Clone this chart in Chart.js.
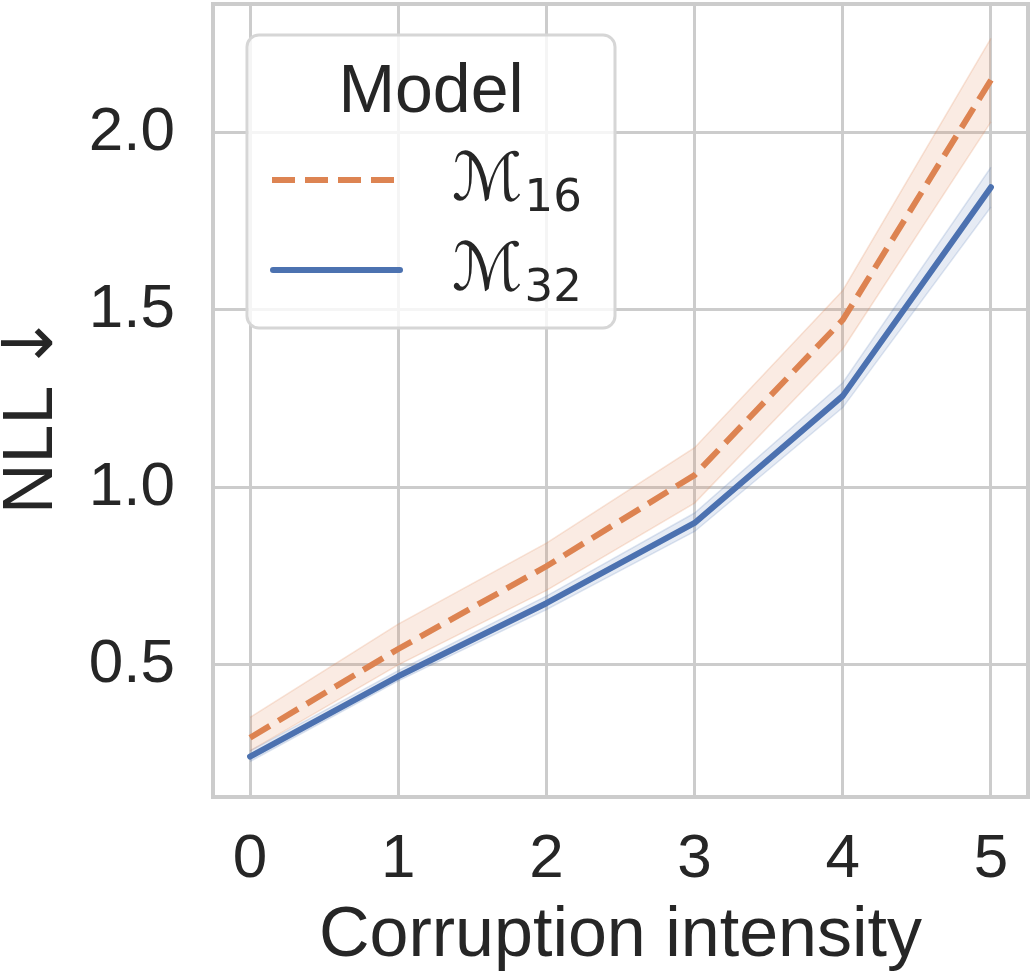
<!DOCTYPE html>
<html>
<head>
<meta charset="utf-8">
<script src="https://cdn.jsdelivr.net/npm/chart.js@4.4.1/dist/chart.umd.min.js"></script>
<style>
  html, body { margin: 0; padding: 0; background: #fff; }
  canvas { display: block; }
</style>
</head>
<body>
<canvas id="nllChart" width="1031" height="976"></canvas>
<script>
// --- dados ---
const intensity = [0, 1, 2, 3, 4, 5];
const yTicks = [0.5, 1.0, 1.5, 2.0];

const m16Mean = [0.295, 0.545, 0.778, 1.035, 1.472, 2.148];
const m16Low  = [0.258, 0.500, 0.710, 0.956, 1.390, 2.030];
const m16High = [0.352, 0.615, 0.843, 1.112, 1.555, 2.265];

const m32Mean = [0.242, 0.468, 0.674, 0.900, 1.258, 1.846];
const m32Low  = [0.228, 0.455, 0.656, 0.876, 1.225, 1.790];
const m32High = [0.258, 0.484, 0.694, 0.928, 1.295, 1.902];

const seriesNames = ['16', '32'];

const ORANGE = '#dd8452';
const BLUE = '#4c72b0';
const GRID = '#cccccc';
const TEXT = '#262626';
const FONT = "'Liberation Sans', Arial, sans-serif";

const pts = (arr) => intensity.map((x, i) => ({ x: x, y: arr[i] }));

// titulo do eixo y (seta em DejaVu, como no mathtext)
const yTitle = {
    id: 'yTitle',
    afterDraw(chart) {
        const { ctx } = chart;
        ctx.save();
        ctx.translate(52, 514);
        ctx.rotate(-Math.PI / 2);
        ctx.fillStyle = TEXT;
        ctx.textAlign = 'left';
        ctx.textBaseline = 'alphabetic';
        ctx.font = '70px ' + FONT;
        ctx.fillText('NLL', 0, 0);
        const w = ctx.measureText('NLL ').width;
        ctx.font = '70px "DejaVu Sans", sans-serif';
        ctx.fillText('\u2193', w - 6, 0);
        ctx.restore();
    }
};

// legenda e bordas desenhadas por cima (como no matplotlib)
const frameAndLegend = {
    id: 'frameAndLegend',
    afterDatasetsDraw(chart) {
        const { ctx, chartArea: a } = chart;
        ctx.save();
        ctx.strokeStyle = GRID;
        ctx.lineWidth = 4;
        ctx.strokeRect(a.left, a.top, a.right - a.left, a.bottom - a.top);

        // caixa da legenda
        const bx = 247, by = 35, bw = 368, bh = 293, r = 12;
        ctx.beginPath();
        ctx.roundRect(bx, by, bw, bh, r);
        ctx.fillStyle = 'rgba(255,255,255,0.8)';
        ctx.fill();
        ctx.strokeStyle = '#d6d6d6';
        ctx.lineWidth = 3;
        ctx.stroke();

        ctx.fillStyle = TEXT;
        ctx.textBaseline = 'alphabetic';
        ctx.textAlign = 'center';
        ctx.font = '68px ' + FONT;
        ctx.fillText('Model', bx + bw / 2, 112);

        const entries = [
            { color: ORANGE, dash: [23, 10], cap: 'butt', y: 180, sub: seriesNames[0] },
            { color: BLUE, dash: [], cap: 'round', y: 270, sub: seriesNames[1] }
        ];
        entries.forEach(e => {
            ctx.beginPath();
            ctx.setLineDash(e.dash);
            ctx.lineCap = e.cap;
            ctx.strokeStyle = e.color;
            ctx.lineWidth = 6;
            ctx.moveTo(e.cap === 'round' ? 273 : 272, e.y);
            ctx.lineTo(e.cap === 'round' ? 400 : 395, e.y);
            ctx.stroke();
            ctx.setLineDash([]);

            ctx.fillStyle = TEXT;
            ctx.textAlign = 'left';
            ctx.font = '66px "DejaVu Sans", sans-serif';
            ctx.fillText('\u2133', 452, e.y + 20);
            const w = ctx.measureText('\u2133').width;
            ctx.font = '45px "DejaVu Sans", sans-serif';
            ctx.fillText(e.sub, 452 + w + 2, e.y + 31);
        });
        ctx.restore();
    }
};

new Chart(document.getElementById('nllChart'), {
    type: 'line',
    data: {
        datasets: [
            { data: pts(m16High), borderColor: 'rgba(221,132,82,0.22)', borderWidth: 1.5, backgroundColor: 'rgba(221,132,82,0.16)', fill: '+1', pointRadius: 0, tension: 0 },
            { data: pts(m16Low), borderColor: 'rgba(221,132,82,0.22)', borderWidth: 1.5, fill: false, pointRadius: 0, tension: 0 },
            { data: pts(m16Mean), borderColor: ORANGE, borderWidth: 6, borderDash: [23, 10], borderCapStyle: 'butt', fill: false, pointRadius: 0, tension: 0 },
            { data: pts(m32High), borderColor: 'rgba(76,114,176,0.18)', borderWidth: 1.5, backgroundColor: 'rgba(76,114,176,0.14)', fill: '+1', pointRadius: 0, tension: 0 },
            { data: pts(m32Low), borderColor: 'rgba(76,114,176,0.18)', borderWidth: 1.5, fill: false, pointRadius: 0, tension: 0 },
            { data: pts(m32Mean), borderColor: BLUE, borderWidth: 6, borderCapStyle: 'round', borderJoinStyle: 'round', fill: false, pointRadius: 0, tension: 0 }
        ]
    },
    options: {
        responsive: false,
        animation: false,
        events: [],
        layout: { padding: { top: 4, right: 3 } },
        plugins: { legend: { display: false }, tooltip: { enabled: false } },
        scales: {
            x: {
                type: 'linear',
                min: -0.25,
                max: 5.25,
                afterBuildTicks: (axis) => { axis.ticks = intensity.map(v => ({ value: v })); },
                afterFit: (axis) => { axis.height = 179; axis.paddingLeft = 0; axis.paddingRight = 0; },
                grid: { color: GRID, lineWidth: 3, drawTicks: false },
                border: { display: false },
                ticks: { color: TEXT, font: { size: 62, family: FONT }, padding: 26, callback: (v) => String(v) },
                title: { display: true, text: 'Corruption intensity', color: TEXT, font: { size: 70, family: FONT }, padding: { top: 0, bottom: -3 } }
            },
            y: {
                min: 0.128,
                max: 2.362,
                afterBuildTicks: (axis) => { axis.ticks = yTicks.map(v => ({ value: v })); },
                afterFit: (axis) => { axis.width = 213; axis.paddingTop = 0; axis.paddingBottom = 0; },
                grid: { color: GRID, lineWidth: 3, drawTicks: false },
                border: { display: false },
                ticks: { color: TEXT, font: { size: 62, family: FONT }, padding: 38, callback: (v) => v.toFixed(1) }
            }
        }
    },
    plugins: [frameAndLegend, yTitle]
});
</script>
</body>
</html>
